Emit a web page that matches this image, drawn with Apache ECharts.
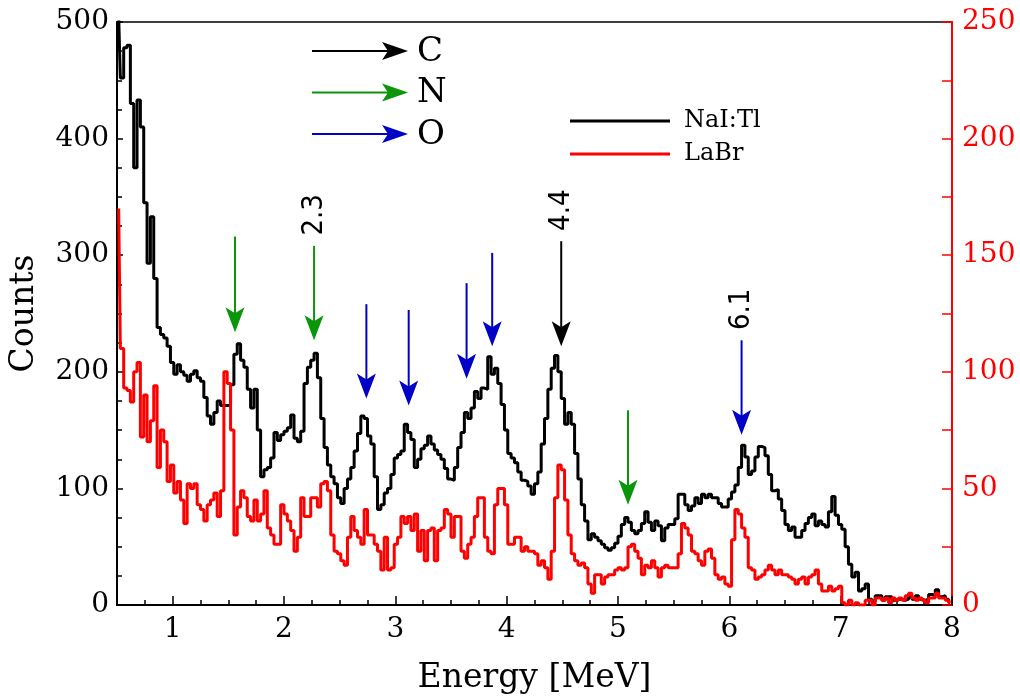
<!DOCTYPE html>
<html>
<head>
<meta charset="utf-8">
<script src="https://cdn.jsdelivr.net/npm/echarts@6/dist/echarts.min.js"></script>
<style>
html,body{margin:0;padding:0;background:#fff;}
#chart{width:1020px;height:700px;}
</style>
</head>
<body>
<div id="chart"></div>
<script>
// ---------- data ----------
const energyStart = 0.5;      // MeV, left edge of first bin
const binWidth = 0.03;        // MeV
const naiCounts = [
505,452,478,480,430,375,433,410,345,293,
333,280,238,232,229,222,208,198,206,200,
197,192,198,201,195,192,178,162,155,165,
175,171,171,171,189,215,224,210,204,185,
169,185,150,110,116,118,126,148,141,146,
149,152,163,143,140,149,190,204,210,216,
195,160,135,120,110,104,92,87,100,108,
118,132,147,162,160,145,138,110,82,86,
96,100,112,126,129,132,155,148,142,118,
125,134,137,145,138,133,129,125,117,108,
107,118,135,148,165,160,169,183,177,186,
185,213,198,203,190,172,150,130,126,122,
114,107,106,102,95,104,114,138,160,185,
203,214,200,177,155,165,155,130,108,86,
72,56,61,58,55,52,49,47,49,53,
59,69,75,71,64,61,64,70,80,71,
64,72,68,55,66,69,69,74,95,95,
86,81,85,92,87,95,92,95,92,92,
87,84,84,91,97,103,118,137,127,112,
115,127,136,135,128,112,98,99,91,81,
69,64,67,58,58,64,70,75,78,68,
72,69,67,80,93,77,69,65,50,35,
24,28,12,14,18,5,3,8,8,4,
7,7,4,5,5,4,5,7,5,8,
5,4,5,9,8,13,7,8,5,3
];
const labrCounts = [
170,110,93,92,87,100,104,72,90,70,
79,94,59,75,70,53,60,48,53,45,
35,52,50,52,43,41,36,43,45,48,
38,49,100,95,75,30,42,49,46,38,
36,45,36,39,49,33,30,26,26,43,
39,36,32,23,29,46,38,38,46,46,
42,52,53,49,30,23,22,19,17,29,
38,32,29,26,41,30,30,26,23,15,
29,15,16,26,29,38,35,38,32,39,
23,32,19,32,33,19,32,33,41,39,
29,38,38,23,20,26,29,38,46,46,
29,23,22,43,50,50,43,26,26,29,
29,23,25,23,23,22,17,19,16,11,
23,46,60,58,45,30,22,19,17,18,
16,9,5,13,13,9,12,13,13,15,
16,15,16,25,26,23,20,13,17,16,
19,16,12,16,17,16,16,16,22,35,
33,30,23,22,19,17,23,24,20,13,
11,12,9,8,28,41,39,33,29,16,
15,11,12,13,15,17,15,13,15,13,
13,12,11,9,11,12,9,12,13,15,
9,6,6,8,6,7,8,1,0,2,
0,1,0,0,2,2,0,3,3,2,
3,1,3,2,3,2,4,5,3,2,
3,2,1,3,3,5,3,3,2,1
];
const xTickValues = [1,2,3,4,5,6,7,8];

// annotation arrows (energy in MeV, top / tip in counts on left axis)
const arrowEnergy = [1.56, 2.27, 2.74, 3.12, 3.64, 3.87, 4.49, 5.09, 6.11];
const arrowTop    = [316, 308, 258, 253, 276, 302, 312, 167, 227];
const arrowTip    = [234, 227, 177, 171, 194, 222, 222, 86, 146];
const arrowKind   = ['N','N','O','O','O','O','C','N','O'];
const arrowLabel  = ['', '2.3', '', '', '', '', '4.4', '', '6.1'];
const elementNames = ['C','N','O'];

const colors = { C: '#000000', N: '#0a960a', O: '#0000c8' };
const serif = '"DejaVu Serif", "Liberation Serif", serif';
const sansC = '"DejaVu Sans Condensed", "DejaVu Sans", sans-serif';

const naiData = naiCounts.map((v, i) => [energyStart + binWidth * (i + 0.5), v]);
const labrData = labrCounts.map((v, i) => [energyStart + binWidth * (i + 0.5), v]);
const arrowData = arrowEnergy.map((e, i) => [e, arrowTop[i], arrowTip[i], i]);

const chart = echarts.init(document.getElementById('chart'), null, { renderer: 'canvas' });

function headPoints(x, y, dir, len, half, notch) {
  if (dir === 'down') {
    return [[x, y], [x - half, y - len], [x, y - len + notch], [x + half, y - len]];
  }
  return [[x, y], [x - len, y - half], [x - len + notch, y], [x - len, y + half]];
}

// legend for arrows (C, N, O)
const arrowLegend = [];
elementNames.forEach((k, i) => {
  const y = 51 + i * 41.5;
  arrowLegend.push({
    type: 'line', shape: { x1: 312, y1: y, x2: 392, y2: y },
    style: { stroke: colors[k], lineWidth: 2 }, z: 10
  });
  arrowLegend.push({
    type: 'polygon', shape: { points: headPoints(408, y, 'right', 26, 9, 6) },
    style: { fill: colors[k] }, z: 10
  });
  arrowLegend.push({
    type: 'text', x: 417, y: y + 1,
    style: { text: k, font: '34px ' + serif, fill: '#000', textAlign: 'left', textVerticalAlign: 'middle' }, z: 10
  });
});

const option = {
  animation: false,
  backgroundColor: '#ffffff',
  grid: { left: 117, right: 68, top: 22, bottom: 92, show: true, borderColor: '#000', borderWidth: 1.5, containLabel: false },
  legend: {
    data: ['NaI:Tl', 'LaBr'],
    orient: 'vertical',
    left: 565, top: 104,
    icon: 'rect',
    itemWidth: 100, itemHeight: 3,
    itemGap: 9,
    textStyle: { fontFamily: serif, fontSize: 24, color: '#000', padding: [0, 0, 0, 9], lineHeight: 24 },
    selectedMode: false
  },
  xAxis: [
    {
      type: 'value', min: 0.5, max: 8, interval: 0.25, position: 'bottom',
      axisLine: { show: true, onZero: false, lineStyle: { color: '#000', width: 2 } },
      axisTick: { show: true, inside: true, length: 5, lineStyle: { color: '#000', width: 1.5 } },
      axisLabel: { show: false },
      splitLine: { show: false },
      name: 'Energy [MeV]', nameLocation: 'middle', nameGap: 57,
      nameTextStyle: { fontFamily: serif, fontSize: 33, color: '#000' }
    },
    {
      type: 'value', min: 0.5, max: 8, position: 'bottom',
      axisLine: { show: false, onZero: false },
      axisTick: { show: true, inside: true, length: 9, customValues: xTickValues, lineStyle: { color: '#000', width: 1.5 } },
      axisLabel: { show: true, customValues: xTickValues, margin: 11, fontFamily: serif, fontSize: 28, color: '#000' },
      splitLine: { show: false }
    }
  ],
  yAxis: [
    {
      type: 'value', min: 0, max: 500, interval: 100, position: 'left',
      axisLine: { show: true, onZero: false, lineStyle: { color: '#000', width: 2 } },
      axisTick: { show: true, inside: true, length: 6, lineStyle: { color: '#000', width: 1.5 } },
      minorTick: { show: true, splitNumber: 4, length: 5, lineStyle: { color: '#000', width: 1.5 } },
      axisLabel: { margin: 8, fontFamily: serif, fontSize: 28, color: '#000' },
      splitLine: { show: false },
      name: 'Counts', nameLocation: 'middle', nameGap: 76, nameRotate: 90,
      nameTextStyle: { fontFamily: serif, fontSize: 33, color: '#000' }
    },
    {
      type: 'value', min: 0, max: 250, interval: 50, position: 'right',
      axisLine: { show: true, onZero: false, lineStyle: { color: '#ff0000', width: 2 } },
      axisTick: { show: true, inside: true, length: 10, lineStyle: { color: '#ff0000', width: 1.5 } },
      minorTick: { show: true, splitNumber: 2, length: 10, lineStyle: { color: '#ff0000', width: 1.5 } },
      axisLabel: { margin: 10, fontFamily: serif, fontSize: 28, color: '#ff0000' },
      splitLine: { show: false }
    }
  ],
  series: [
    {
      name: 'NaI:Tl', type: 'line', xAxisIndex: 0, yAxisIndex: 0,
      data: naiData, step: 'middle', showSymbol: false, symbol: 'none',
      color: '#000000',
      lineStyle: { color: '#000000', width: 3 }, z: 3, clip: true
    },
    {
      name: 'LaBr', type: 'line', xAxisIndex: 0, yAxisIndex: 1,
      data: labrData, step: 'middle', showSymbol: false, symbol: 'none',
      color: '#ff0000',
      lineStyle: { color: '#ff0000', width: 3 }, z: 4, clip: true
    },
    {
      name: 'arrows', type: 'custom', xAxisIndex: 0, yAxisIndex: 0,
      data: arrowData, z: 6, clip: false, silent: true,
      renderItem: function (params, api) {
        const e = api.value(0), top = api.value(1), tip = api.value(2), idx = api.value(3);
        const p1 = api.coord([e, top]);
        const p2 = api.coord([e, tip]);
        const c = colors[arrowKind[idx]];
        const len = 25, half = 9.5, notch = 6;
        const children = [
          { type: 'line', shape: { x1: p1[0], y1: p1[1], x2: p2[0], y2: p2[1] - len + notch + 1 }, style: { stroke: c, lineWidth: 2 } },
          { type: 'polygon', shape: { points: headPoints(p2[0], p2[1], 'down', len, half, notch) }, style: { fill: c } }
        ];
        if (arrowLabel[idx]) {
          children.push({
            type: 'text', x: p1[0], y: p1[1] - 31, rotation: Math.PI / 2,
            style: { text: arrowLabel[idx], font: '29px ' + sansC, fill: '#000', textAlign: 'center', textVerticalAlign: 'middle' }
          });
        }
        return { type: 'group', children: children };
      }
    }
  ],
  graphic: arrowLegend
};

chart.setOption(option);
</script>
</body>
</html>
